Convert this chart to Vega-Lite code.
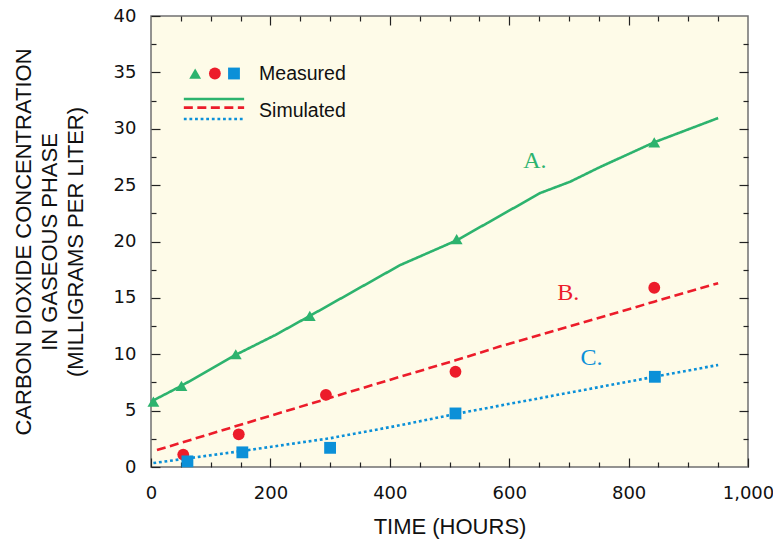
{
  "$schema": "https://vega.github.io/schema/vega-lite/v6.json",
  "width": 597,
  "height": 451,
  "autosize": {"type": "none"},
  "padding": {"left": 151, "top": 16, "right": 25, "bottom": 74},
  "background": "white",
  "config": {
    "view": {"fill": "#FEFBE8", "stroke": "#707070", "strokeWidth": 1.5},
    "axis": {"grid": false, "domain": false, "ticks": true, "tickColor": "#222222", "tickWidth": 1.2, "tickOpacity": 1, "zindex": 2, "labelFont": "DejaVu Sans", "labelFontSize": 18, "labelColor": "#111111", "titleFont": "Liberation Sans", "titleFontSize": 22, "titleFontWeight": "normal", "titleColor": "#111111", "labelOverlap": false, "labelFlush": false, "labelBound": false}
  },
  "datasets": {
    "sim": [
      {"s": "A", "t": 0, "c": 5.8}, {"s": "A", "t": 51, "c": 7.2}, {"s": "A", "t": 142, "c": 9.95}, {"s": "A", "t": 208, "c": 11.7}, {"s": "A", "t": 266, "c": 13.4}, {"s": "A", "t": 417, "c": 17.9}, {"s": "A", "t": 512, "c": 20.1}, {"s": "A", "t": 562, "c": 21.6}, {"s": "A", "t": 652, "c": 24.3}, {"s": "A", "t": 702, "c": 25.3}, {"s": "A", "t": 752, "c": 26.6}, {"s": "A", "t": 843, "c": 28.8}, {"s": "A", "t": 950, "c": 30.95},
      {"s": "B", "t": 10, "c": 1.5}, {"s": "B", "t": 147, "c": 3.7}, {"s": "B", "t": 417, "c": 8.0}, {"s": "B", "t": 510, "c": 9.46}, {"s": "B", "t": 585, "c": 10.7}, {"s": "B", "t": 843, "c": 14.66}, {"s": "B", "t": 950, "c": 16.3},
      {"s": "C", "t": 4, "c": 0.35}, {"s": "C", "t": 150, "c": 1.4}, {"s": "C", "t": 300, "c": 2.55}, {"s": "C", "t": 417, "c": 3.7}, {"s": "C", "t": 510, "c": 4.7}, {"s": "C", "t": 585, "c": 5.45}, {"s": "C", "t": 843, "c": 8.0}, {"s": "C", "t": 950, "c": 9.05}
    ],
    "meas": [
      {"s": "A", "t": 4, "c": 5.8}, {"s": "A", "t": 51, "c": 7.2}, {"s": "A", "t": 142, "c": 10.0}, {"s": "A", "t": 266, "c": 13.4}, {"s": "A", "t": 512, "c": 20.2}, {"s": "A", "t": 843, "c": 28.8},
      {"s": "B", "t": 54, "c": 1.1}, {"s": "B", "t": 147, "c": 2.9}, {"s": "B", "t": 293, "c": 6.4}, {"s": "B", "t": 510, "c": 8.45}, {"s": "B", "t": 843, "c": 15.9},
      {"s": "C", "t": 61, "c": 0.5}, {"s": "C", "t": 153, "c": 1.3}, {"s": "C", "t": 300, "c": 1.7}, {"s": "C", "t": 510, "c": 4.75}, {"s": "C", "t": 844, "c": 8.0}
    ],
    "legpts": [
      {"s": "A", "t": 74, "c": 34.9}, {"s": "B", "t": 107, "c": 34.9}, {"s": "C", "t": 139, "c": 34.9}
    ],
    "leglines": [
      {"s": "A", "t": 55, "c": 32.64}, {"s": "A", "t": 156, "c": 32.64},
      {"s": "B", "t": 55, "c": 31.87}, {"s": "B", "t": 156, "c": 31.87},
      {"s": "C", "t": 55, "c": 30.86}, {"s": "C", "t": 156, "c": 30.86}
    ],
    "legtext": [
      {"t": 181, "c": 34.9, "label": "Measured"}, {"t": 181, "c": 31.57, "label": "Simulated"}
    ],
    "serieslabels": [
      {"s": "A", "t": 643, "c": 27.1, "label": "A."}, {"s": "B", "t": 699, "c": 15.46, "label": "B."}, {"s": "C", "t": 738, "c": 9.64, "label": "C."}
    ]
  },
  "layer": [
    {
      "data": {"name": "sim"},
      "mark": {"type": "line", "strokeWidth": 2.6, "strokeCap": "butt"},
      "encoding": {
        "x": {"field": "t", "type": "quantitative", "scale": {"domain": [0, 1000], "nice": false, "zero": false},
          "axis": {"orient": "bottom", "title": "TIME (HOURS)", "values": [0, 200, 400, 600, 800, 1000], "offset": -9, "tickSize": 9, "tickColor": "#222222",
            "format": ",d", "labelPadding": 17, "titlePadding": 14}},
        "y": {"field": "c", "type": "quantitative", "scale": {"domain": [0, 40], "nice": false, "zero": false},
          "axis": {"orient": "left", "title": ["CARBON DIOXIDE CONCENTRATION", "IN GASEOUS PHASE", "(MILLIGRAMS PER LITER)"], "titleLineHeight": 26,
            "values": [0, 5, 10, 15, 20, 25, 30, 35, 40], "offset": -9, "tickSize": 9, "tickColor": "#222222",
            "format": "d", "labelPadding": 15, "titlePadding": 26}},
        "color": {"field": "s", "type": "nominal", "scale": {"domain": ["A", "B", "C"], "range": ["#2DB36E", "#EC1C2A", "#0B90D8"]}, "legend": null},
        "strokeDash": {"field": "s", "type": "nominal", "scale": {"domain": ["A", "B", "C"], "range": [[1, 0], [9, 4.5], [2.8, 2.8]]}, "legend": null}
      }
    },
    {
      "data": {"name": "meas"},
      "mark": {"type": "point", "filled": true, "opacity": 1, "size": 140},
      "encoding": {
        "x": {"field": "t", "type": "quantitative", "scale": {"domain": [0, 1000], "nice": false, "zero": false},
          "axis": {"orient": "top", "title": null, "labels": false, "values": [200, 400, 600, 800], "offset": -9, "tickSize": 9, "tickColor": "#222222"}},
        "y": {"field": "c", "type": "quantitative", "scale": {"domain": [0, 40], "nice": false, "zero": false},
          "axis": {"orient": "right", "title": null, "labels": false, "values": [5, 10, 15, 20, 25, 30, 35], "offset": -9, "tickSize": 9, "tickColor": "#222222"}},
        "color": {"field": "s", "type": "nominal", "scale": {"domain": ["A", "B", "C"], "range": ["#2DB36E", "#EC1C2A", "#0B90D8"]}, "legend": null},
        "shape": {"field": "s", "type": "nominal", "scale": {"domain": ["A", "B", "C"], "range": ["triangle-up", "circle", "square"]}, "legend": null}
      }
    },
    {
      "data": {"name": "legpts"},
      "mark": {"type": "point", "filled": true, "opacity": 1, "size": 140},
      "encoding": {
        "x": {"field": "t", "type": "quantitative",
          "axis": {"orient": "bottom", "title": null, "labels": false, "values": [50, 100, 150, 250, 300, 350, 450, 500, 550, 650, 700, 750, 850, 900, 950], "offset": -5, "tickSize": 5, "tickColor": "#222222"}},
        "y": {"field": "c", "type": "quantitative",
          "axis": {"orient": "left", "title": null, "labels": false, "values": [2.5, 7.5, 12.5, 17.5, 22.5, 27.5, 32.5, 37.5], "offset": -5, "tickSize": 5, "tickColor": "#222222"}},
        "color": {"field": "s", "type": "nominal", "legend": null},
        "shape": {"field": "s", "type": "nominal", "legend": null}
      }
    },
    {
      "data": {"name": "leglines"},
      "mark": {"type": "line", "strokeWidth": 2.6, "strokeCap": "butt"},
      "encoding": {
        "x": {"field": "t", "type": "quantitative",
          "axis": {"orient": "top", "title": null, "labels": false, "values": [50, 100, 150, 250, 300, 350, 450, 500, 550, 650, 700, 750, 850, 900, 950], "offset": -5, "tickSize": 5, "tickColor": "#222222"}},
        "y": {"field": "c", "type": "quantitative",
          "axis": {"orient": "right", "title": null, "labels": false, "values": [2.5, 7.5, 12.5, 17.5, 22.5, 27.5, 32.5, 37.5], "offset": -5, "tickSize": 5, "tickColor": "#222222"}},
        "color": {"field": "s", "type": "nominal", "legend": null},
        "strokeDash": {"field": "s", "type": "nominal", "legend": null}
      }
    },
    {
      "data": {"name": "legtext"},
      "mark": {"type": "text", "align": "left", "baseline": "middle", "font": "Liberation Sans", "fontSize": 19.5, "color": "#111111"},
      "encoding": {
        "x": {"field": "t", "type": "quantitative", "axis": null},
        "y": {"field": "c", "type": "quantitative", "axis": null},
        "text": {"field": "label"}
      }
    },
    {
      "data": {"name": "serieslabels"},
      "mark": {"type": "text", "align": "center", "baseline": "middle", "font": "Liberation Serif", "fontSize": 24},
      "encoding": {
        "x": {"field": "t", "type": "quantitative", "axis": null},
        "y": {"field": "c", "type": "quantitative", "axis": null},
        "color": {"field": "s", "type": "nominal", "legend": null},
        "text": {"field": "label"}
      }
    }
  ],
  "resolve": {"axis": {"x": "independent", "y": "independent"}}
}
